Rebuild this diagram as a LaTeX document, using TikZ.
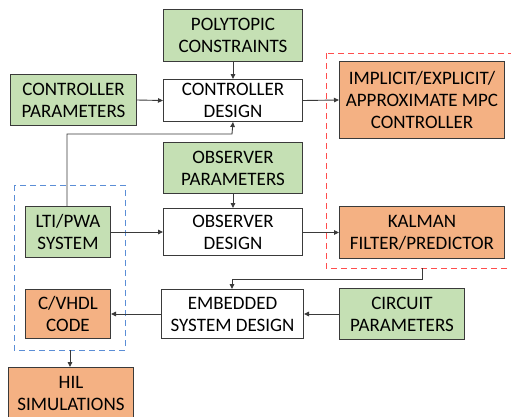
\documentclass[tikz,border=0pt]{standalone}
\usepackage{fontspec}
\setmainfont{Carlito}
\usetikzlibrary{arrows.meta}
\definecolor{boxgreen}{HTML}{C5E0B4}
\definecolor{boxorange}{HTML}{F4B183}
\definecolor{edgegray}{HTML}{3A3A3A}
\definecolor{dashblue}{HTML}{5B8ED6}
\definecolor{dashred}{HTML}{FF4D4D}
\tikzset{
  blk/.style={draw=edgegray, line width=1pt, align=center, inner sep=0pt,
    font=\fontsize{19}{22}\selectfont},
  gbox/.style={blk, fill=boxgreen},
  obox/.style={blk, fill=boxorange},
  wbox/.style={blk, fill=white},
  conn/.style={draw=edgegray, line width=0.9pt, -{Triangle[length=5pt,width=4.5pt]}},
  plain/.style={draw=edgegray, line width=0.9pt},
}
\newcommand{\bx}[6]{\node[#1, minimum width=#4pt, minimum height=#5pt, anchor=north west] (#2) at (#3) {#6};}
\begin{document}
\begin{tikzpicture}[x=1pt,y=-1pt]
\useasboundingbox (0,0) rectangle (511,416);
\begin{scope}
\clip (0,0) rectangle (511,416);
\draw[dashred, line width=1pt, dash pattern=on 6pt off 4pt] (326,53) rectangle (520,268);
\end{scope}
\draw[dashblue, line width=1pt, dash pattern=on 6pt off 4pt] (14,185) rectangle (125,350);
\coordinate (bluebot) at (70,350);
\coordinate (redbot) at (422,268);

\bx{gbox}{pc}{163,9}{139}{52}{POLYTOPIC\\CONSTRAINTS}
\bx{wbox}{cd}{163,79}{139}{42}{CONTROLLER\\DESIGN}
\bx{gbox}{cpar}{10,74}{126}{51}{CONTROLLER\\PARAMETERS}
\bx{gbox}{op}{163,142}{139}{51}{OBSERVER\\PARAMETERS}
\bx{wbox}{od}{163,208}{139}{47}{OBSERVER\\DESIGN}
\bx{gbox}{lti}{25,206}{85}{51}{LTI/PWA\\SYSTEM}
\bx{obox}{code}{25,289}{85}{49}{C/VHDL\\CODE}
\bx{wbox}{esd}{161,289}{142}{49}{EMBEDDED\\SYSTEM DESIGN}
\bx{obox}{hil}{8,367}{125}{52}{HIL\\SIMULATIONS}
\bx{obox}{mpc}{339,61}{165}{77}{IMPLICIT/EXPLICIT/\\APPROXIMATE MPC\\CONTROLLER}
\bx{obox}{kal}{339,206}{165}{52}{KALMAN\\FILTER/PREDICTOR}
\bx{gbox}{cir}{339,288}{125}{51}{CIRCUIT\\PARAMETERS}

\draw[conn] (pc.south) -- (cd.north);
\draw[conn] (cpar.east) -- (cd.west);
\draw[conn] (cd.east) -- (mpc.west);
\draw[conn] (lti.north -| 67,0) |- (232,134) -- (cd.south);
\draw[conn] (op.south) -- (od.north);
\draw[conn] (lti.east) -- (od.west |- lti.east);
\draw[conn] (od.east |- kal.west) -- (kal.west);
\draw[conn] (redbot) |- (232,279) -- (esd.north -| 232,0);
\draw[conn] (esd.west |- code.east) -- (code.east);
\draw[conn] (cir.west) -- (esd.east |- cir.west);
\draw[conn] (bluebot) -- (hil.north -| bluebot);
\end{tikzpicture}
\end{document}
